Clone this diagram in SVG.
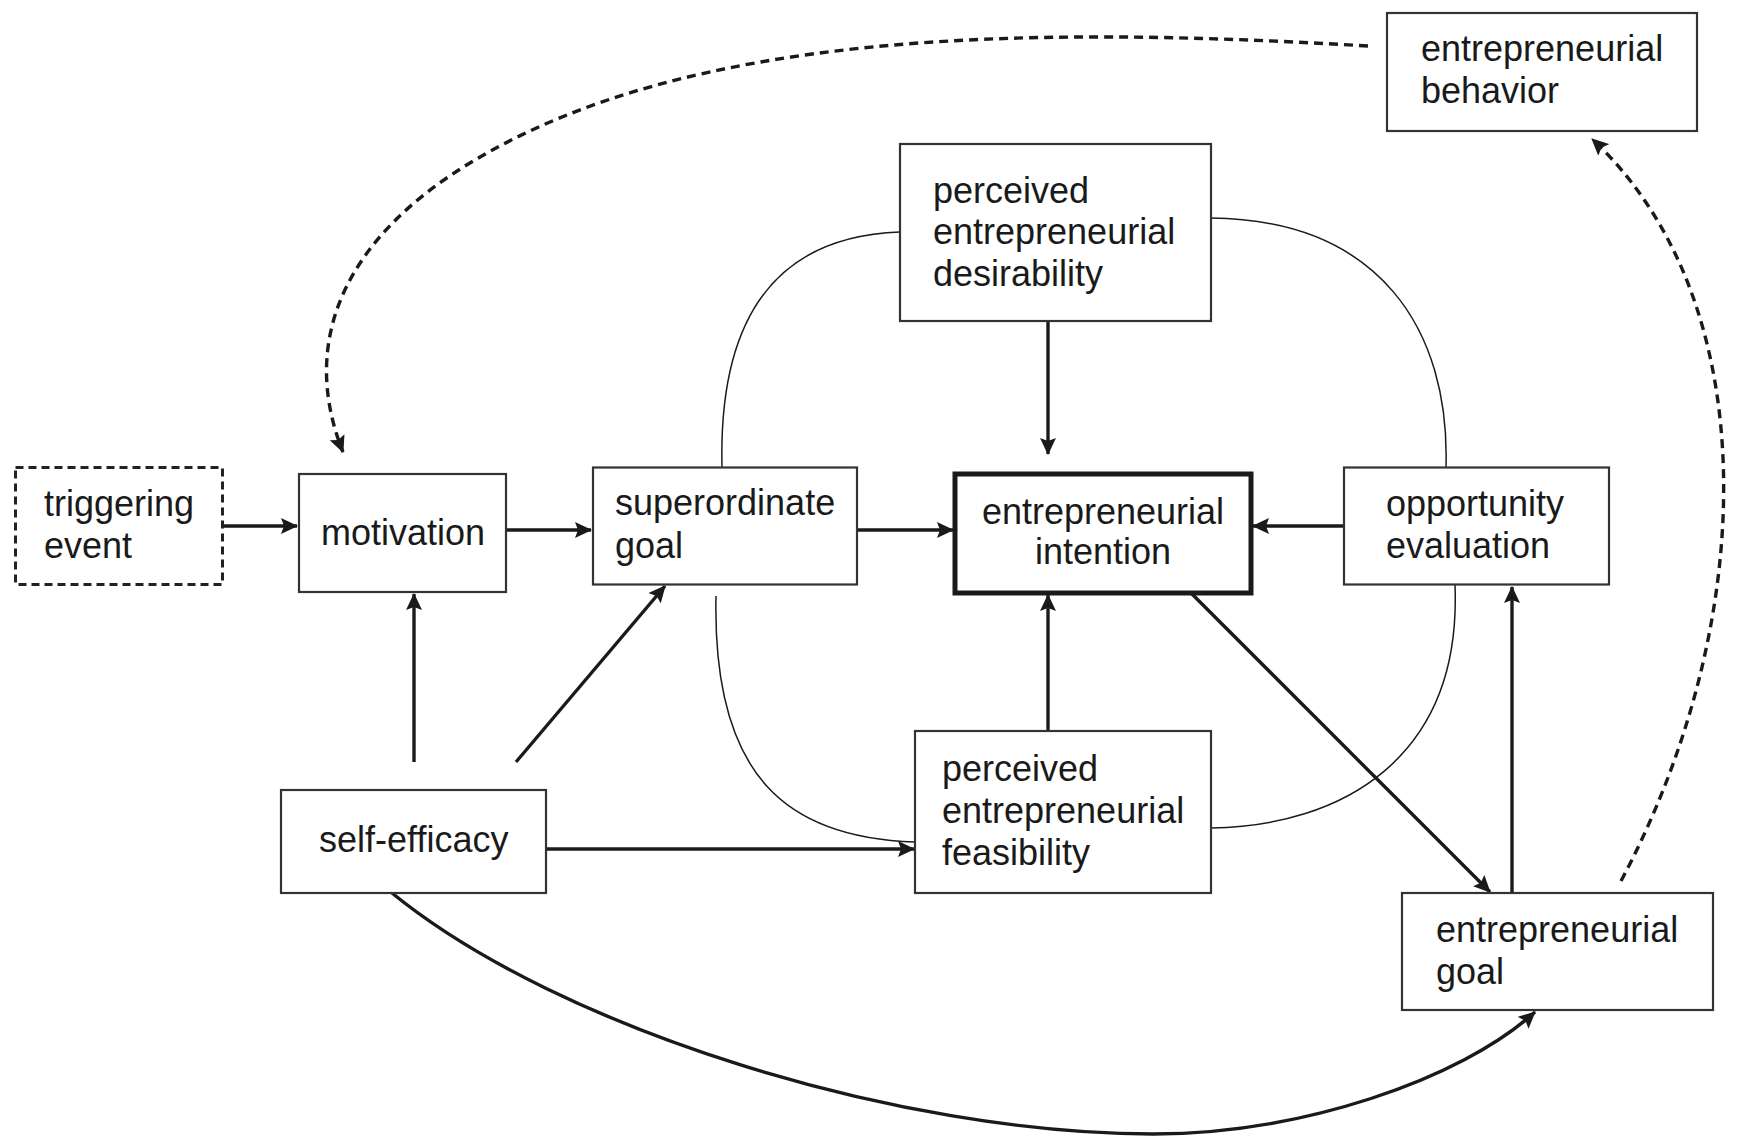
<svg xmlns="http://www.w3.org/2000/svg" width="1737" height="1138" viewBox="0 0 1737 1138">
<defs>
<style>
.box{fill:#fff;stroke:#333;stroke-width:2.2}
.dbox{fill:#fff;stroke:#222;stroke-width:3;stroke-dasharray:8 5}
.bold{fill:#fff;stroke:#1a1a1a;stroke-width:5}
.t{font-family:"Liberation Sans",Arial,sans-serif;font-size:36px;fill:#1a1a1a}
.a{fill:none;stroke:#1a1a1a;stroke-width:3.4}
.d{fill:none;stroke:#1a1a1a;stroke-width:3.4;stroke-dasharray:9 6}
.c{fill:none;stroke:#1a1a1a;stroke-width:1.5}
</style>
<marker id="ah" markerUnits="userSpaceOnUse" markerWidth="18" markerHeight="16" refX="16" refY="8" orient="auto">
<path d="M0,0 L17,8 L0,16 L3,8 Z" fill="#1a1a1a"/>
</marker>
</defs>
<rect width="1737" height="1138" fill="#fff"/>
<g id="connectors">
<line class="a" x1="223" y1="526" x2="297" y2="526" marker-end="url(#ah)"/>
<line class="a" x1="506" y1="530" x2="591" y2="530" marker-end="url(#ah)"/>
<line class="a" x1="857" y1="530" x2="953" y2="530" marker-end="url(#ah)"/>
<line class="a" x1="1344" y1="526" x2="1253" y2="526" marker-end="url(#ah)"/>
<line class="a" x1="1048" y1="321" x2="1048" y2="454" marker-end="url(#ah)"/>
<line class="a" x1="1048" y1="731" x2="1048" y2="595" marker-end="url(#ah)"/>
<line class="a" x1="414" y1="762" x2="414" y2="594" marker-end="url(#ah)"/>
<line class="a" x1="516" y1="762" x2="665" y2="586" marker-end="url(#ah)"/>
<line class="a" x1="546" y1="849" x2="914" y2="849" marker-end="url(#ah)"/>
<line class="a" x1="1191" y1="593" x2="1490" y2="892" marker-end="url(#ah)"/>
<line class="a" x1="1512" y1="893" x2="1512" y2="587" marker-end="url(#ah)"/>
<path class="a" d="M392 893 C560 1030 900 1134 1153 1134 C1300 1134 1460 1080 1535 1012" marker-end="url(#ah)"/>
<path class="d" d="M1621 881 C1760 620 1765 300 1592 139" marker-end="url(#ah)"/>
<path class="d" d="M1368 46 C1018 25 690 32 475 160 C346 236 298 340 343 452" marker-end="url(#ah)"/>
<path class="c" d="M722 467 C718 300 790 236 900 232"/>
<path class="c" d="M1211 218 C1380 220 1450 330 1446 467"/>
<path class="c" d="M716 596 C712 780 790 838 915 842"/>
<path class="c" d="M1455 585 C1462 760 1340 826 1211 828"/>
</g>
<g id="triggering-event">
<rect class="dbox" x="15.5" y="467.5" width="207" height="117"/>
<text class="t" x="44" y="516">triggering</text>
<text class="t" x="44" y="558">event</text>
</g>
<g id="motivation">
<rect class="box" x="299" y="474" width="207" height="118"/>
<text class="t" x="321" y="545">motivation</text>
</g>
<g id="superordinate-goal">
<rect class="box" x="593" y="467.5" width="264" height="117"/>
<text class="t" x="615" y="515">superordinate</text>
<text class="t" x="615" y="558">goal</text>
</g>
<g id="entrepreneurial-intention">
<rect class="bold" x="955" y="474" width="296" height="119"/>
<text class="t" x="1103" y="524" text-anchor="middle">entrepreneurial</text>
<text class="t" x="1103" y="564" text-anchor="middle">intention</text>
</g>
<g id="opportunity-evaluation">
<rect class="box" x="1344" y="467.5" width="265" height="117"/>
<text class="t" x="1386" y="516">opportunity</text>
<text class="t" x="1386" y="558">evaluation</text>
</g>
<g id="perceived-desirability">
<rect class="box" x="900" y="144" width="311" height="177"/>
<text class="t" x="933" y="203">perceived</text>
<text class="t" x="933" y="244">entrepreneurial</text>
<text class="t" x="933" y="286">desirability</text>
</g>
<g id="entrepreneurial-behavior">
<rect class="box" x="1387" y="13" width="310" height="118"/>
<text class="t" x="1421" y="61">entrepreneurial</text>
<text class="t" x="1421" y="103">behavior</text>
</g>
<g id="self-efficacy">
<rect class="box" x="281" y="790" width="265" height="103"/>
<text class="t" x="319" y="852">self-efficacy</text>
</g>
<g id="perceived-feasibility">
<rect class="box" x="915" y="731" width="296" height="162"/>
<text class="t" x="942" y="781">perceived</text>
<text class="t" x="942" y="823">entrepreneurial</text>
<text class="t" x="942" y="865">feasibility</text>
</g>
<g id="entrepreneurial-goal">
<rect class="box" x="1402" y="893" width="311" height="117"/>
<text class="t" x="1436" y="942">entrepreneurial</text>
<text class="t" x="1436" y="984">goal</text>
</g>
</svg>
